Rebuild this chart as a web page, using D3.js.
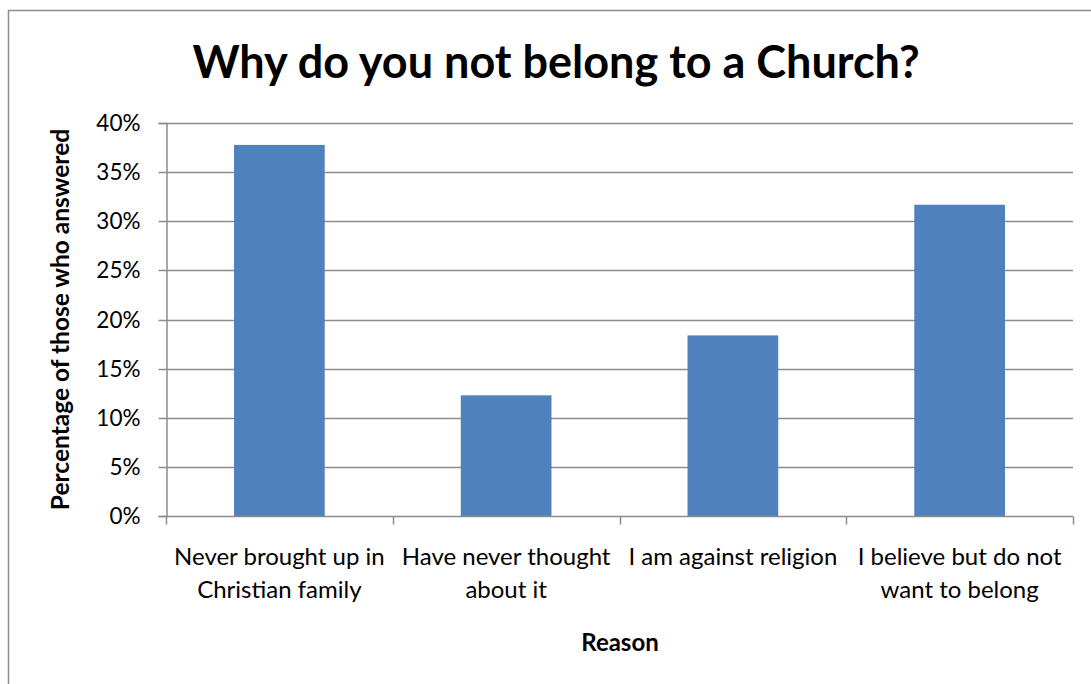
<!DOCTYPE html>
<html><head><meta charset="utf-8">
<script src="https://cdn.jsdelivr.net/npm/d3@7"></script>
<style>body{margin:0;background:#fff}svg{display:block}text{font-family:Lato,"Open Sans",sans-serif}</style>
</head><body><div id="c"></div>
<script>
const categories = [["Never brought up in","Christian family"],["Have never thought","about it"],["I am against religion"],["I believe but do not","want to belong"]];
const values = [0.3777, 0.1228, 0.1838, 0.3168];
const yTicks = [0,0.05,0.10,0.15,0.20,0.25,0.30,0.35,0.40];
const title = "Why do you not belong to a Church?";
const yTitle = "Percentage of those who answered";
const xTitle = "Reason";

const W=1091,H=684;
const svg=d3.select("#c").append("svg").attr("width",W).attr("height",H);
svg.append("rect").attr("x",8.5).attr("y",10.5).attr("width",W+10).attr("height",H+10).attr("fill","#fff").attr("stroke","#8c8c8c").attr("stroke-width",1.5);

const L=166,R=1073,T=123,B=516;
const x=d3.scaleBand().domain(d3.range(categories.length)).range([L,R]).paddingInner(0.6).paddingOuter(0.3);
const xb=d3.scaleBand().domain(d3.range(categories.length)).range([L,R]);
const y=d3.scaleLinear().domain([0,0.4]).range([B,T]);

// gridlines
svg.append("g").selectAll("line").data(yTicks.slice(1)).join("line")
 .attr("x1",L).attr("x2",R).attr("y1",d=>Math.round(y(d))+0.5).attr("y2",d=>Math.round(y(d))+0.5)
 .attr("stroke","#8c8c8c").attr("stroke-width",1.5);

// bars
svg.append("g").selectAll("rect").data(values).join("rect")
 .attr("x",(d,i)=>x(i)).attr("width",x.bandwidth()).attr("y",d=>y(d)).attr("height",d=>B-y(d))
 .attr("fill","#4F81BD");

// y axis
const ya=svg.append("g").attr("transform",`translate(${L+0.5},0)`)
 .call(d3.axisLeft(y).tickValues(yTicks).tickFormat(d3.format(".0%")).tickSize(8).tickPadding(18));
ya.select(".domain").attr("stroke","#8c8c8c").attr("stroke-width",1.5);
ya.selectAll(".tick line").attr("stroke","#8c8c8c").attr("stroke-width",1.5);
ya.selectAll(".tick text").attr("font-size",22.5).attr("fill","#000").style("font-family","Lato,'Open Sans',sans-serif");
ya.selectAll(".tick").attr("transform",d=>`translate(0,${Math.round(y(d))+0.5})`);

// x axis
const xa=svg.append("g").attr("transform",`translate(0,${B+0.5})`);
xa.append("line").attr("x1",L).attr("x2",R).attr("stroke","#8c8c8c").attr("stroke-width",1.5);
xa.selectAll(".t").data(d3.range(categories.length+1)).join("line")
 .attr("x1",i=>Math.round(i<categories.length?xb(i):R)+0.5).attr("x2",i=>Math.round(i<categories.length?xb(i):R)+0.5)
 .attr("y1",0).attr("y2",8).attr("stroke","#8c8c8c").attr("stroke-width",1.5);
categories.forEach((lines,i)=>{
  const t=svg.append("text").attr("x",xb(i)+xb.bandwidth()/2).attr("y",565).attr("text-anchor","middle").attr("font-size",24).attr("fill","#000");
  lines.forEach((s,k)=>t.append("tspan").attr("x",xb(i)+xb.bandwidth()/2).attr("dy",k?33:0).text(s));
});

svg.append("text").attr("x",556).attr("y",78).attr("text-anchor","middle").attr("font-size",45).attr("font-weight","bold").text(title);
svg.append("text").attr("x",620).attr("y",651).attr("text-anchor","middle").attr("font-size",24).attr("font-weight","bold").text(xTitle);
svg.append("text").attr("transform",`translate(69,${(T+B)/2}) rotate(-90)`).attr("text-anchor","middle").attr("font-size",24.5).attr("font-weight","bold").text(yTitle);
</script></body></html>
